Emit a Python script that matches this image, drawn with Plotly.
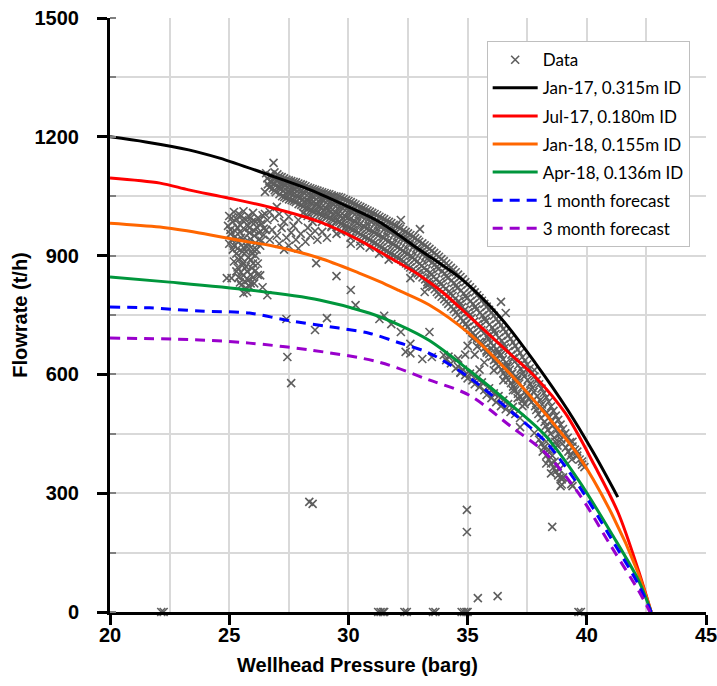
import plotly.graph_objects as go

# ---- measured wellhead data (pressure barg, flow t/h) ----
block_pts = [
    (25.0, 1000), (25.2, 1010), (25.4, 1005), (25.6, 1012), (25.8, 1000), (26.0, 1008), (26.2, 995), (26.4, 1002), (26.6, 990),
    (24.95, 975), (25.15, 985), (25.35, 970), (25.55, 990), (25.75, 978), (25.95, 985), (26.15, 972), (26.35, 980), (26.55, 965),
    (25.05, 955), (25.25, 948), (25.45, 960), (25.65, 945), (25.85, 958), (26.05, 950), (26.25, 940), (26.45, 952),
    (25.0, 930), (25.2, 925), (25.4, 935), (25.6, 920), (25.8, 930), (26.0, 915), (26.3, 925),
    (25.3, 905), (25.5, 895), (25.7, 910), (25.9, 890), (26.1, 900), (25.2, 885),
    (25.35, 870), (25.55, 875), (25.75, 860), (25.95, 868), (26.2, 880),
    (25.4, 845), (25.6, 850), (25.8, 838), (26.0, 845), (25.5, 825), (25.7, 818), (25.9, 830),
    (26.3, 850), (25.6, 805), (24.9, 843), (25.1, 843), (26.2, 851), (26.4, 820), (26.6, 800),
    (25.1, 995), (25.3, 992), (25.5, 1000), (25.7, 990), (25.9, 995), (26.1, 985), (26.3, 990), (26.5, 1005),
    (25.05, 965), (25.25, 962), (25.45, 978), (25.65, 966), (25.85, 970), (26.05, 962), (26.25, 958), (26.45, 968),
    (25.1, 940), (25.3, 938), (25.5, 945), (25.7, 935), (25.9, 942), (26.1, 932), (26.35, 938),
    (25.15, 915), (25.35, 918), (25.55, 910), (25.75, 922), (25.95, 905), (26.15, 915),
    (25.4, 890), (25.6, 882), (25.8, 895), (26.0, 880), (25.3, 860), (25.5, 858), (25.7, 872), (25.9, 852), (26.1, 862),
    (25.45, 832), (25.65, 835), (25.85, 822), (26.05, 830), (25.75, 808),
]
arch_pts = [
    (26.7, 1010), (26.9, 995), (27.1, 1005), (27.3, 985), (27.5, 998), (27.7, 975), (27.9, 990), (28.1, 1008), (28.3, 970), (28.5, 985),
    (26.8, 965), (27.0, 950), (27.2, 970), (27.4, 945), (27.6, 958), (27.8, 940), (28.0, 955), (28.2, 935), (28.4, 950), (28.6, 962),
    (26.7, 940), (27.1, 930), (27.5, 925), (28.7, 940), (28.9, 960), (29.1, 945), (29.3, 975), (29.5, 955), (29.7, 980), (29.9, 965),
    (27.0, 1023), (28.65, 881), (29.5, 848), (26.5, 1061), (27.3, 915), (27.9, 918), (30.1, 930), (30.5, 925),
]
band_pts = [
    (26.6, 1095), (26.62, 1080), (26.55, 1108), (26.86, 1134),
    (26.8, 1100), (26.78, 1085), (26.83, 1070),
    (27.02, 1105), (26.97, 1090), (27.06, 1075), (26.95, 1060),
    (27.2, 1098), (27.24, 1082), (27.17, 1068), (27.22, 1050),
    (27.4, 1092), (27.37, 1078), (27.44, 1062), (27.39, 1045),
    (27.6, 1088), (27.63, 1072), (27.57, 1058), (27.62, 1040),
    (27.8, 1085), (27.77, 1068), (27.83, 1052), (27.79, 1035),
    (28.0, 1080), (28.04, 1063), (27.97, 1045), (28.02, 1028),
    (28.2, 1075), (28.17, 1058), (28.23, 1040), (28.19, 1020),
    (28.4, 1070), (28.43, 1052), (28.37, 1036), (28.42, 1015),
    (28.6, 1066), (28.57, 1048), (28.63, 1030), (28.59, 1010),
    (28.8, 1062), (28.84, 1044), (28.77, 1025), (28.82, 1005),
    (29.0, 1058), (28.97, 1040), (29.03, 1020), (29.0, 1000),
    (29.2, 1055), (29.23, 1035), (29.17, 1015), (29.22, 995),
    (29.4, 1050), (29.37, 1030), (29.43, 1010), (29.39, 990),
    (29.6, 1048), (29.63, 1025), (29.57, 1005), (29.62, 985),
    (29.8, 1043), (29.77, 1020), (29.83, 1000), (29.79, 978),
    (30.0, 1038), (30.04, 1015), (29.97, 995), (30.02, 970),
    (30.2, 1032), (30.17, 1010), (30.23, 988), (30.19, 965),
    (30.4, 1026), (30.43, 1004), (30.37, 982), (30.42, 958),
    (30.6, 1020), (30.57, 998), (30.63, 975), (30.59, 950),
    (30.8, 1014), (30.84, 992), (30.77, 968), (30.82, 943),
    (31.0, 1008), (30.97, 985), (31.03, 962), (31.0, 935),
    (31.2, 1002), (31.23, 978), (31.17, 955), (31.22, 928),
    (31.4, 995), (31.37, 972), (31.43, 948), (31.39, 920),
    (31.6, 988), (31.63, 965), (31.57, 940), (31.62, 912),
    (31.8, 982), (31.77, 958), (31.83, 932), (31.79, 905),
    (32.0, 975), (32.04, 950), (31.97, 925), (32.02, 897),
    (32.2, 990), (32.17, 968), (32.23, 943), (32.19, 917), (32.22, 890),
    (32.4, 960), (32.43, 935), (32.37, 908), (32.42, 880),
    (32.6, 952), (32.57, 926), (32.63, 900), (32.59, 870),
    (32.8, 944), (32.84, 918), (32.77, 890), (32.82, 860),
    (33.0, 967), (32.97, 935), (33.03, 908), (33.0, 880), (32.98, 850),
    (33.2, 926), (33.23, 898), (33.17, 868), (33.22, 840),
    (33.4, 917), (33.37, 888), (33.43, 858), (33.39, 828),
    (33.6, 907), (33.63, 878), (33.57, 846), (33.62, 815),
    (33.8, 897), (33.77, 866), (33.83, 834), (33.79, 802),
    (34.0, 886), (34.04, 855), (33.97, 822), (34.02, 790),
    (34.2, 875), (34.17, 843), (34.23, 810), (34.19, 778),
    (34.4, 864), (34.43, 831), (34.37, 798), (34.42, 765),
    (34.6, 852), (34.57, 818), (34.63, 785), (34.59, 750),
    (34.8, 840), (34.84, 805), (34.77, 770), (34.82, 735),
    (35.0, 827), (34.97, 792), (35.03, 757), (35.0, 720),
    (35.2, 814), (35.23, 778), (35.17, 742), (35.22, 705),
    (35.4, 800), (35.37, 764), (35.43, 727), (35.39, 690),
    (35.6, 786), (35.63, 749), (35.57, 712), (35.62, 675),
    (35.8, 771), (35.77, 734), (35.83, 696), (35.79, 660),
    (36.0, 756), (36.04, 718), (35.97, 680), (36.02, 645),
    (36.2, 740), (36.17, 702), (36.23, 664), (36.19, 628),
    (36.4, 724), (36.43, 685), (36.37, 647), (36.42, 612), (36.4, 783),
    (36.6, 707), (36.57, 668), (36.63, 630), (36.59, 595), (36.6, 755),
    (36.8, 690), (36.84, 650), (36.77, 612), (36.82, 578),
    (37.0, 672), (36.97, 632), (37.03, 595), (37.0, 560),
    (37.2, 654), (37.23, 614), (37.17, 577), (37.22, 543),
    (37.4, 635), (37.37, 595), (37.43, 558), (37.39, 525),
    (37.6, 615), (37.63, 576), (37.57, 540),
    (37.8, 595), (37.77, 556), (37.83, 520),
    (38.0, 575), (38.04, 535), (37.97, 500),
    (38.2, 553), (38.17, 514), (38.23, 480),
    (38.4, 531), (38.43, 492), (38.37, 460),
    (38.6, 508), (38.57, 470), (38.63, 440),
    (38.8, 485), (38.84, 448), (38.77, 420),
    (39.0, 462), (38.97, 425), (39.2, 440), (39.23, 405),
    (39.4, 418), (39.37, 385), (39.6, 395), (39.8, 380),
]
band_fill_pts = [
    (26.7, 1102), (26.72, 1088), (26.68, 1072),
    (26.9, 1110), (26.92, 1095), (26.88, 1080), (26.91, 1065),
    (27.1, 1100), (27.12, 1085), (27.08, 1070), (27.11, 1055),
    (27.3, 1095), (27.32, 1080), (27.28, 1064), (27.31, 1048),
    (27.5, 1090), (27.52, 1075), (27.48, 1060), (27.51, 1042),
    (27.7, 1086), (27.72, 1070), (27.68, 1055), (27.71, 1038),
    (27.9, 1082), (27.92, 1066), (27.88, 1048), (27.91, 1030),
    (28.1, 1078), (28.12, 1060), (28.08, 1042), (28.11, 1024),
    (28.3, 1072), (28.32, 1055), (28.28, 1038), (28.31, 1018), (28.29, 1000),
    (28.5, 1068), (28.52, 1050), (28.48, 1033), (28.51, 1012), (28.49, 995),
    (28.7, 1064), (28.72, 1046), (28.68, 1028), (28.71, 1008),
    (28.9, 1060), (28.92, 1042), (28.88, 1022), (28.91, 1002), (28.89, 985),
    (29.1, 1056), (29.12, 1038), (29.08, 1018), (29.11, 998),
    (29.3, 1052), (29.32, 1033), (29.28, 1012), (29.31, 992), (29.29, 972),
    (29.5, 1049), (29.52, 1028), (29.48, 1008), (29.51, 988),
    (29.7, 1046), (29.72, 1022), (29.68, 1002), (29.71, 982), (29.69, 960),
    (29.9, 1040), (29.92, 1018), (29.88, 998), (29.91, 975),
    (30.1, 1035), (30.12, 1012), (30.08, 992), (30.11, 968), (30.09, 945),
    (30.3, 1029), (30.32, 1007), (30.28, 985), (30.31, 962),
    (30.5, 1023), (30.52, 1001), (30.48, 978), (30.51, 954), (30.49, 935),
    (30.7, 1017), (30.72, 995), (30.68, 972), (30.71, 947),
    (30.9, 1011), (30.92, 988), (30.88, 965), (30.91, 940), (30.89, 920),
    (31.1, 1005), (31.12, 982), (31.08, 958), (31.11, 932),
    (31.3, 998), (31.32, 975), (31.28, 952), (31.31, 924), (31.29, 905),
    (31.5, 992), (31.52, 968), (31.48, 944), (31.51, 916),
    (31.7, 985), (31.72, 962), (31.68, 936), (31.71, 908), (31.69, 890),
    (31.9, 978), (31.92, 954), (31.88, 928), (31.91, 901),
    (32.1, 972), (32.12, 946), (32.08, 921), (32.11, 893),
    (32.3, 964), (32.32, 939), (32.28, 912), (32.31, 885),
    (32.5, 956), (32.52, 930), (32.48, 904), (32.51, 875),
    (32.7, 948), (32.72, 922), (32.68, 895), (32.71, 865),
    (32.9, 940), (32.92, 913), (32.88, 885), (32.91, 855),
    (33.1, 931), (33.12, 903), (33.08, 874), (33.11, 845),
    (33.3, 922), (33.32, 893), (33.28, 863), (33.31, 833),
    (33.5, 912), (33.52, 883), (33.48, 852), (33.51, 821),
    (33.7, 902), (33.72, 872), (33.68, 840), (33.71, 808),
    (33.9, 891), (33.92, 860), (33.88, 828), (33.91, 796),
    (34.1, 880), (34.12, 849), (34.08, 816), (34.11, 784),
    (34.3, 869), (34.32, 837), (34.28, 804), (34.31, 771),
    (34.5, 858), (34.52, 825), (34.48, 791), (34.51, 757),
    (34.7, 846), (34.72, 812), (34.68, 777), (34.71, 742),
    (34.9, 833), (34.92, 798), (34.88, 763), (34.91, 727),
    (35.1, 820), (35.12, 785), (35.08, 749), (35.11, 712),
    (35.3, 807), (35.32, 771), (35.28, 734), (35.31, 697),
    (35.5, 793), (35.52, 756), (35.48, 719), (35.51, 682),
    (35.7, 778), (35.72, 741), (35.68, 704), (35.71, 667),
    (35.9, 763), (35.92, 726), (35.88, 688), (35.91, 652),
    (36.1, 748), (36.12, 710), (36.08, 672), (36.11, 636),
    (36.3, 732), (36.32, 693), (36.28, 655), (36.31, 620),
    (36.5, 715), (36.52, 676), (36.48, 638), (36.51, 603),
    (36.7, 698), (36.72, 659), (36.68, 621), (36.71, 586),
    (36.9, 681), (36.92, 641), (36.88, 603), (36.91, 569),
    (37.1, 663), (37.12, 623), (37.08, 586), (37.11, 551),
    (37.3, 644), (37.32, 604), (37.28, 567), (37.31, 534),
    (37.5, 625), (37.52, 586), (37.48, 549),
    (37.7, 605), (37.72, 566), (37.68, 530),
    (37.9, 585), (37.92, 545), (37.88, 510),
    (38.1, 564), (38.12, 524), (38.08, 490),
    (38.3, 542), (38.32, 503), (38.28, 470),
    (38.5, 519), (38.52, 481), (38.48, 450),
    (38.7, 496), (38.72, 459), (38.68, 430),
    (38.9, 473), (38.92, 436),
    (39.1, 451), (39.12, 415),
    (39.3, 429), (39.32, 395),
]
lower_pts = [
    (34.6, 620), (34.7, 605), (34.8, 612), (34.9, 598), (35.0, 590), (35.1, 602), (35.2, 585), (35.3, 575),
    (35.4, 590), (35.5, 568), (35.6, 580), (35.7, 560), (35.8, 548), (35.9, 565), (36.0, 540), (36.1, 552),
    (36.2, 530), (36.3, 545), (36.4, 520), (36.5, 535), (36.6, 512), (36.7, 525), (36.8, 505), (36.9, 518),
    (37.0, 500), (37.2, 490), (35.2, 690), (35.4, 670), (35.6, 680), (35.8, 655), (36.0, 665), (36.2, 640),
    (36.4, 650), (36.6, 620), (36.8, 600), (37.0, 585), (35.3, 650), (35.7, 630), (36.1, 610), (36.5, 585),
    (36.9, 560), (37.1, 540), (37.3, 520), (35.0, 672), (34.9, 650), (35.5, 612),
    (34.1, 636), (34.3, 628), (34.5, 615), (34.7, 604), (34.2, 645), (34.6, 640),
]
cluster_pts = [
    (38.0, 435), (38.1, 425), (38.2, 415), (38.3, 430), (38.15, 405), (38.3, 395), (38.4, 410), (38.4, 385),
    (38.5, 375), (38.55, 395), (38.6, 365), (38.65, 380), (38.7, 355), (38.75, 370), (38.8, 345), (38.85, 360),
    (38.9, 340), (38.3, 375), (38.5, 350), (38.95, 335), (39.0, 340), (38.9, 318), (38.95, 322),
    (39.35, 323), (39.4, 318), (37.2, 467), (37.8, 452),
    (39.4, 430), (39.5, 410), (39.6, 405), (39.7, 385), (39.8, 372), (39.9, 366),
]
outlier_pts = [
    (27.44, 644), (27.6, 578), (27.4, 740), (28.36, 278), (28.5, 273), (28.6, 712), (29.1, 742), (30.3, 775),
    (30.1, 813), (31.3, 740), (31.5, 748), (31.8, 727), (32.2, 707), (33.4, 707), (32.4, 657), (32.6, 653),
    (32.6, 677), (33.1, 639), (33.5, 644), (34.0, 649), (32.6, 843), (33.3, 826), (33.2, 808), (34.97, 258),
    (34.97, 202), (35.43, 35), (36.26, 40), (38.55, 215), (37.8, 611),
]
zero_pts = [
    (22.15, 0), (22.25, 0), (31.25, 0), (31.35, 0), (31.45, 0), (31.5, 0), (32.35, 0), (32.45, 0),
    (33.55, 0), (33.65, 0), (34.75, 0), (34.85, 0), (34.95, 0), (35.0, 0), (39.65, 0), (39.75, 0),
]

# ---- deliverability curves ----
jan17_p = [20, 21.5, 23.3, 24.6, 26.7, 28.4, 30.0, 31.3, 33.0, 34.8, 36.4, 37.85, 39.2, 40.3, 41.3]
jan17_q = [1200, 1187, 1167, 1146, 1103, 1066, 1023, 985, 914, 838, 742, 628, 510, 400, 290]

jul17_p = [20, 22.1, 23.3, 25.0, 26.7, 28.8, 30.45, 31.7, 33.0, 34.0, 35.05, 36.6, 37.85, 39.1, 40.36, 41.32, 42.16, 42.7]
jul17_q = [1096, 1083, 1066, 1045, 1022, 985, 939, 896, 850, 805, 748, 662, 593, 502, 366, 250, 106, 0]

jan18_p = [20, 22.1, 23.76, 25.85, 26.69, 28.78, 30.45, 31.29, 32.12, 33.38, 35.05, 36.85, 38.27, 39.65, 41.03, 42.16, 42.7]
jan18_q = [982, 972, 957, 934, 926, 894, 856, 835, 812, 776, 704, 597, 500, 395, 250, 98, 0]

apr18_p = [20, 22.5, 25.85, 28.78, 30.87, 32.12, 33.38, 35.05, 36.85, 38.27, 39.65, 41.03, 42.16, 42.7]
apr18_q = [846, 833, 813, 788, 755, 725, 686, 611, 522, 445, 333, 199, 81, 0]

fc1_p = [20, 21.67, 23.76, 25.85, 27.4, 29.6, 30.87, 32.12, 33.38, 35.05, 36.85, 38.27, 39.65, 41.03, 42.16, 42.7]
fc1_q = [770, 768, 760, 755, 737, 717, 704, 680, 654, 593, 505, 430, 320, 185, 70, 0]

fc3_p = [20, 23.76, 25.85, 28.36, 31.29, 33.38, 35.05, 36.85, 38.27, 39.65, 41.03, 42.16, 42.65]
fc3_q = [692, 687, 679, 662, 631, 586, 548, 467, 401, 300, 165, 55, 0]

x_ticks = [20, 25, 30, 35, 40, 45]
y_ticks = [0, 300, 600, 900, 1200, 1500]

data_pts = block_pts + arch_pts + band_pts + band_fill_pts + lower_pts + cluster_pts + outlier_pts + zero_pts
data_p = [p for p, q in data_pts]
data_q = [q for p, q in data_pts]

fig = go.Figure()

fig.add_trace(go.Scatter(
    x=data_p, y=data_q, mode="markers", name="Data", legendgroup="d",
    marker=dict(symbol="x-thin", size=8, color="#5e5e5e", line=dict(color="#5e5e5e", width=1.6)),
    cliponaxis=False,
))

curves = [
    ("Jan-17, 0.315m ID", jan17_p, jan17_q, "#000000", "solid"),
    ("Jul-17, 0.180m ID", jul17_p, jul17_q, "#ff0000", "solid"),
    ("Jan-18, 0.155m ID", jan18_p, jan18_q, "#ff6600", "solid"),
    ("Apr-18, 0.136m ID", apr18_p, apr18_q, "#00963c", "solid"),
    ("1 month forecast", fc1_p, fc1_q, "#0000ff", "10px,7px"),
    ("3 month forecast", fc3_p, fc3_q, "#9900cc", "10px,7px"),
]
for name, px, qy, col, dash in curves:
    fig.add_trace(go.Scatter(
        x=px, y=qy, mode="lines", name=name, legendgroup=name,
        line=dict(color=col, width=3, dash=dash, shape="spline", smoothing=0.9),
    ))

grid = "#d9d9d9"
tickfont = dict(family="Liberation Sans", size=20, color="black", weight="bold")
titlefont = dict(family="Liberation Sans", size=20, color="black", weight="bold")

fig.update_layout(
    width=717, height=686,
    margin=dict(l=110, r=11, t=18, b=74, autoexpand=False),
    paper_bgcolor="white", plot_bgcolor="white",
    showlegend=True,
    legend=dict(
        x=0.632, y=0.961, xanchor="left", yanchor="top",
        bgcolor="white", bordercolor="#bfbfbf", borderwidth=1,
        font=dict(family="Lato", size=17, color="black"),
        traceorder="grouped", tracegroupgap=3, itemwidth=45,
    ),
    xaxis=dict(
        range=[20, 45], tickmode="array", tickvals=x_ticks, automargin=False,
        showline=True, linecolor="black", linewidth=3,
        ticks="outside", ticklen=10, tickwidth=3, tickcolor="black",
        showgrid=True, gridcolor=grid, gridwidth=1.5, zeroline=False,
        minor=dict(dtick=2.5, tick0=20, showgrid=True, gridcolor=grid, gridwidth=1.5, ticks=""),
        tickfont=tickfont, ticklabeloverflow="allow", ticklabelstandoff=-7,
    ),
    yaxis=dict(
        range=[0, 1500], tickmode="array", tickvals=y_ticks, automargin=False,
        showline=True, linecolor="black", linewidth=3,
        ticks="outside", ticklen=10, tickwidth=3, tickcolor="black",
        showgrid=True, gridcolor=grid, gridwidth=1.5, zeroline=False,
        minor=dict(dtick=150, tick0=0, showgrid=True, gridcolor=grid, gridwidth=1.5,
                   ticks="inside", ticklen=6, tickwidth=2, tickcolor="#7f7f7f"),
        tickfont=tickfont, ticklabelstandoff=14, ticklabeloverflow="allow",
        title=dict(text="Flowrate (t/h)", font=titlefont, standoff=2),
    ),
    annotations=[dict(
        text="Wellhead Pressure (barg)", font=titlefont, showarrow=False,
        xref="paper", yref="paper", x=0.4147, y=-0.0892,
        xanchor="center", yanchor="middle",
    )],
)

fig.write_html("out.html")
